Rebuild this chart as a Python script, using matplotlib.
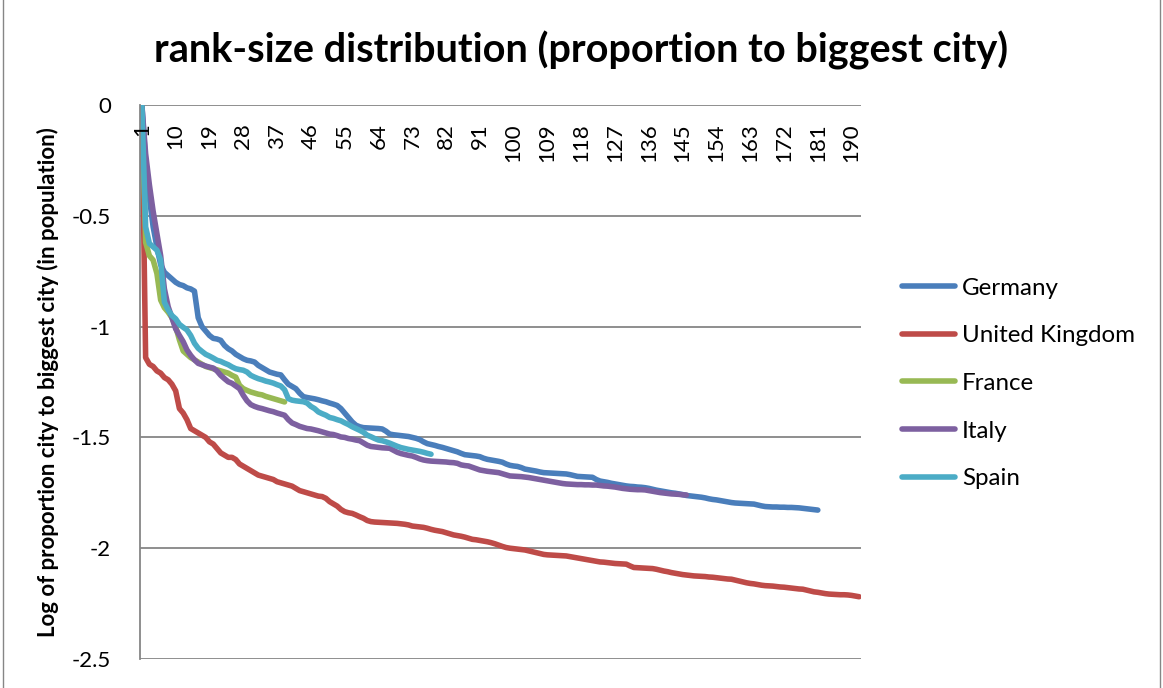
import numpy as np
import matplotlib
matplotlib.use("Agg")
from matplotlib import pyplot as plt
from matplotlib.lines import Line2D

plt.rcParams['font.family'] = ['Lato', 'DejaVu Sans']
plt.rcParams['axes.unicode_minus'] = False

# log10 of (city population / biggest city population), by rank
germany = [0, -0.26, -0.42, -0.55, -0.64, -0.72, -0.755, -0.77, -0.785, -0.80,
           -0.81, -0.815, -0.825, -0.83, -0.84, -0.96, -1.00, -1.02, -1.04, -1.053,
           -1.056, -1.062, -1.085, -1.10, -1.11, -1.125, -1.135, -1.145, -1.152, -1.155,
           -1.16, -1.175, -1.185, -1.195, -1.205, -1.21, -1.215, -1.218, -1.24, -1.26,
           -1.27, -1.28, -1.30, -1.316, -1.32, -1.323, -1.326, -1.33, -1.335, -1.339,
           -1.345, -1.35, -1.356, -1.37, -1.39, -1.41, -1.43, -1.445, -1.452, -1.456,
           -1.457, -1.458, -1.459, -1.46, -1.462, -1.472, -1.485, -1.488, -1.49, -1.492,
           -1.494, -1.496, -1.50, -1.504, -1.51, -1.52, -1.528, -1.532, -1.536, -1.541,
           -1.545, -1.55, -1.555, -1.56, -1.565, -1.572, -1.578, -1.58, -1.582, -1.584,
           -1.587, -1.594, -1.599, -1.602, -1.605, -1.608, -1.612, -1.62, -1.626, -1.629,
           -1.631, -1.636, -1.643, -1.646, -1.649, -1.652, -1.656, -1.659, -1.66, -1.661,
           -1.662, -1.663, -1.664, -1.665, -1.668, -1.672, -1.676, -1.677, -1.678, -1.679,
           -1.68, -1.69, -1.697, -1.70, -1.703, -1.707, -1.71, -1.713, -1.716, -1.719,
           -1.721, -1.722, -1.724, -1.725, -1.727, -1.73, -1.734, -1.738, -1.741, -1.744,
           -1.747, -1.75, -1.752, -1.755, -1.758, -1.762, -1.764, -1.766, -1.768, -1.77,
           -1.773, -1.777, -1.78, -1.782, -1.785, -1.788, -1.791, -1.794, -1.796, -1.797,
           -1.798, -1.799, -1.80, -1.801, -1.805, -1.809, -1.812, -1.813, -1.814, -1.814,
           -1.815, -1.815, -1.816, -1.816, -1.817, -1.818, -1.82, -1.822, -1.824, -1.826,
           -1.828]

united_kingdom = [0, -1.14, -1.17, -1.18, -1.20, -1.21, -1.23, -1.24, -1.26, -1.29,
                  -1.37, -1.39, -1.42, -1.46, -1.47, -1.48, -1.49, -1.50, -1.52, -1.53,
                  -1.55, -1.57, -1.58, -1.59, -1.59, -1.60, -1.62, -1.63, -1.64, -1.65,
                  -1.66, -1.67, -1.675, -1.68, -1.685, -1.69, -1.70, -1.705, -1.71, -1.715,
                  -1.72, -1.73, -1.74, -1.745, -1.75, -1.755, -1.76, -1.765, -1.767, -1.775,
                  -1.79, -1.80, -1.81, -1.825, -1.835, -1.84, -1.843, -1.85, -1.858, -1.865,
                  -1.875, -1.88, -1.882, -1.883, -1.884, -1.885, -1.886, -1.887, -1.888, -1.89,
                  -1.892, -1.895, -1.90, -1.902, -1.904, -1.906, -1.91, -1.915, -1.919, -1.922,
                  -1.925, -1.93, -1.935, -1.94, -1.943, -1.946, -1.95, -1.955, -1.96, -1.962,
                  -1.965, -1.968, -1.971, -1.975, -1.98, -1.986, -1.992, -1.997, -2.0, -2.002,
                  -2.004, -2.006, -2.008, -2.012, -2.016, -2.02, -2.024, -2.028, -2.03, -2.031,
                  -2.032, -2.033, -2.034, -2.035, -2.038, -2.041, -2.044, -2.047, -2.05, -2.053,
                  -2.056, -2.059, -2.062, -2.063, -2.065, -2.067, -2.069, -2.07, -2.071, -2.072,
                  -2.08, -2.087, -2.088, -2.089, -2.09, -2.091, -2.092, -2.095, -2.099, -2.103,
                  -2.106, -2.11, -2.113, -2.116, -2.119, -2.121, -2.123, -2.125, -2.126, -2.127,
                  -2.128, -2.13, -2.131, -2.133, -2.135, -2.137, -2.139, -2.14, -2.144, -2.148,
                  -2.152, -2.156, -2.159, -2.161, -2.164, -2.167, -2.169, -2.17, -2.171, -2.173,
                  -2.175, -2.176, -2.178, -2.18, -2.182, -2.184, -2.185, -2.189, -2.193, -2.197,
                  -2.199, -2.202, -2.205, -2.207, -2.208, -2.209, -2.21, -2.21, -2.211, -2.213,
                  -2.216, -2.219]

france = [0, -0.62, -0.68, -0.70, -0.76, -0.88, -0.915, -0.935, -0.96, -1.00,
          -1.06, -1.11, -1.125, -1.14, -1.15, -1.16, -1.17, -1.18, -1.185, -1.19,
          -1.195, -1.20, -1.205, -1.21, -1.22, -1.228, -1.265, -1.28, -1.288, -1.295,
          -1.30, -1.305, -1.308, -1.315, -1.32, -1.325, -1.33, -1.335, -1.34]

italy = [0, -0.22, -0.36, -0.48, -0.58, -0.68, -0.83, -0.91, -0.96, -1.01,
         -1.04, -1.068, -1.105, -1.13, -1.15, -1.166, -1.172, -1.178, -1.183, -1.187,
         -1.20, -1.22, -1.235, -1.249, -1.256, -1.268, -1.28, -1.31, -1.335, -1.352,
         -1.36, -1.366, -1.37, -1.375, -1.38, -1.384, -1.39, -1.395, -1.40, -1.42,
         -1.435, -1.442, -1.45, -1.455, -1.46, -1.462, -1.466, -1.47, -1.475, -1.48,
         -1.485, -1.487, -1.492, -1.498, -1.50, -1.505, -1.508, -1.512, -1.515, -1.525,
         -1.535, -1.541, -1.543, -1.545, -1.547, -1.548, -1.549, -1.558, -1.567, -1.573,
         -1.577, -1.581, -1.584, -1.59, -1.597, -1.602, -1.605, -1.607, -1.608, -1.609,
         -1.61, -1.611, -1.613, -1.614, -1.617, -1.624, -1.627, -1.629, -1.635, -1.641,
         -1.647, -1.65, -1.653, -1.655, -1.657, -1.659, -1.664, -1.669, -1.674, -1.675,
         -1.676, -1.677, -1.679, -1.681, -1.684, -1.687, -1.69, -1.693, -1.696, -1.699,
         -1.702, -1.705, -1.708, -1.71, -1.711, -1.712, -1.713, -1.713, -1.714, -1.714,
         -1.715, -1.715, -1.717, -1.719, -1.72, -1.722, -1.724, -1.727, -1.73, -1.732,
         -1.734, -1.735, -1.736, -1.736, -1.737, -1.74, -1.743, -1.746, -1.749, -1.751,
         -1.753, -1.755, -1.756, -1.757, -1.759, -1.76]

spain = [0, -0.55, -0.625, -0.64, -0.655, -0.70, -0.89, -0.925, -0.95, -0.965,
         -0.99, -1.003, -1.015, -1.04, -1.075, -1.098, -1.112, -1.125, -1.133, -1.142,
         -1.152, -1.157, -1.165, -1.172, -1.182, -1.19, -1.194, -1.197, -1.205, -1.22,
         -1.228, -1.235, -1.24, -1.246, -1.25, -1.255, -1.262, -1.268, -1.285, -1.325,
         -1.332, -1.335, -1.337, -1.339, -1.345, -1.36, -1.37, -1.385, -1.393, -1.40,
         -1.41, -1.414, -1.42, -1.425, -1.434, -1.442, -1.452, -1.46, -1.468, -1.477,
         -1.49, -1.497, -1.505, -1.512, -1.515, -1.52, -1.526, -1.533, -1.54, -1.546,
         -1.55, -1.554, -1.557, -1.56, -1.563, -1.567, -1.572, -1.576]

series = [("Germany", germany, "#4A7EBB"),
          ("United Kingdom", united_kingdom, "#BE4B48"),
          ("France", france, "#98B954"),
          ("Italy", italy, "#7D60A0"),
          ("Spain", spain, "#4BACC6")]

n_ranks = 192
rank_labels = list(range(1, n_ranks + 1, 9))
y_ticks = [0, -0.5, -1, -1.5, -2, -2.5]
y_tick_labels = ["0", "-0.5", "-1", "-1.5", "-2", "-2.5"]

fig = plt.figure(figsize=(11.63, 6.88), dpi=100)
ax = fig.add_axes([140 / 1163, 1 - 659 / 688, 721 / 1163, 554 / 688])

for name, vals, col in series:
    ranks = np.arange(1, len(vals) + 1)
    ax.plot(ranks, vals, color=col, lw=4.0, label=name,
            solid_capstyle='round', solid_joinstyle='round')

ax.set_xlim(0.5, n_ranks + 0.5)
ax.set_ylim(-2.5, 0)
ax.set_yticks(y_ticks)
ax.set_yticklabels(y_tick_labels, fontsize=16)
ax.tick_params(axis='y', length=0, pad=21)
ax.set_xticks([])
ax.grid(axis='y', color='#868686', lw=1.3)
ax.set_axisbelow(True)
for side in ['top', 'right', 'bottom']:
    ax.spines[side].set_visible(False)
ax.spines['left'].set_color('#868686')
ax.spines['left'].set_linewidth(1.3)

# category labels hang under the axis line at y = 0
for r in rank_labels:
    ax.annotate(str(r), xy=(r, 0), xycoords='data', xytext=(0, -13),
                textcoords='offset points', rotation=90, ha='center', va='top',
                fontsize=16)

ax.set_ylabel("Log of proportion city to biggest city (in population)",
              fontsize=16, fontweight='bold', labelpad=9)
fig.suptitle("rank-size distribution (proportion to biggest city)",
             fontsize=28.5, fontweight='bold', x=581 / 1163, y=1 - 50 / 688, va='center')

leg = ax.legend(loc='upper left', bbox_to_anchor=(880 / 1163, 1 - 256 / 688),
                bbox_transform=fig.transFigure, frameon=False, fontsize=17.4,
                handlelength=2.2, handletextpad=0.3, labelspacing=1.1)

# chart area border
for xf in (3 / 1163, 1160 / 1163):
    fig.add_artist(Line2D([xf, xf], [0, 1], transform=fig.transFigure,
                          color='#868686', lw=1))

fig.savefig("out.png", dpi=100)
